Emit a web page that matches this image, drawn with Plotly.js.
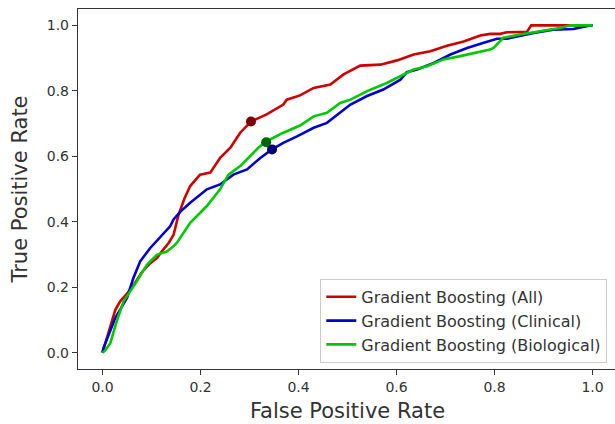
<!DOCTYPE html>
<html>
<head>
<meta charset="utf-8">
<script src="https://cdn.plot.ly/plotly-3.0.1.min.js"></script>
<style>
html, body { margin: 0; padding: 0; overflow: hidden; background: #fff; }
#chart { width: 620px; height: 424px; }
</style>
</head>
<body>
<div id="chart"></div>
<script>
// ROC curve for Gradient Boosting (All)
const allFpr = [0.0, 0.01, 0.026, 0.036, 0.05, 0.065, 0.08, 0.095, 0.111, 0.124, 0.135, 0.145, 0.155, 0.167, 0.179, 0.199, 0.22, 0.24, 0.261, 0.281, 0.303, 0.335, 0.369, 0.376, 0.397, 0.403, 0.431, 0.465, 0.492, 0.526, 0.567, 0.601, 0.635, 0.669, 0.703, 0.737, 0.771, 0.791, 0.812, 0.825, 0.866, 0.875, 0.887, 1.0];
const allTpr = [0.0, 0.05, 0.13, 0.157, 0.18, 0.21, 0.245, 0.27, 0.289, 0.315, 0.335, 0.36, 0.42, 0.47, 0.509, 0.544, 0.55, 0.595, 0.626, 0.672, 0.706, 0.728, 0.758, 0.773, 0.784, 0.786, 0.809, 0.819, 0.85, 0.877, 0.88, 0.893, 0.911, 0.921, 0.938, 0.951, 0.969, 0.974, 0.974, 0.979, 0.98, 1.0, 1.0, 1.0];

// ROC curve for Gradient Boosting (Clinical)
const cliFpr = [0.0, 0.002, 0.026, 0.05, 0.063, 0.077, 0.097, 0.118, 0.138, 0.145, 0.159, 0.179, 0.213, 0.24, 0.267, 0.295, 0.322, 0.346, 0.369, 0.397, 0.431, 0.458, 0.471, 0.506, 0.54, 0.573, 0.608, 0.621, 0.642, 0.676, 0.71, 0.744, 0.778, 0.805, 0.825, 0.88, 0.92, 0.961, 0.995, 1.0];
const cliTpr = [0.0, 0.014, 0.106, 0.167, 0.228, 0.279, 0.319, 0.355, 0.386, 0.407, 0.431, 0.458, 0.499, 0.514, 0.544, 0.56, 0.595, 0.621, 0.641, 0.661, 0.687, 0.702, 0.717, 0.758, 0.784, 0.804, 0.834, 0.857, 0.865, 0.885, 0.911, 0.931, 0.947, 0.959, 0.959, 0.977, 0.987, 0.989, 1.0, 1.0];

// ROC curve for Gradient Boosting (Biological)
const bioFpr = [0.0, 0.005, 0.016, 0.029, 0.043, 0.057, 0.07, 0.091, 0.111, 0.131, 0.145, 0.152, 0.179, 0.213, 0.24, 0.257, 0.281, 0.301, 0.318, 0.335, 0.369, 0.403, 0.431, 0.458, 0.485, 0.506, 0.54, 0.58, 0.608, 0.635, 0.662, 0.696, 0.73, 0.764, 0.791, 0.798, 0.818, 0.852, 0.893, 0.934, 0.955, 1.0];
const bioTpr = [0.0, 0.006, 0.029, 0.096, 0.157, 0.187, 0.218, 0.269, 0.299, 0.309, 0.325, 0.336, 0.397, 0.448, 0.499, 0.544, 0.57, 0.6, 0.626, 0.646, 0.672, 0.694, 0.722, 0.733, 0.763, 0.773, 0.799, 0.824, 0.845, 0.865, 0.875, 0.896, 0.906, 0.916, 0.926, 0.931, 0.962, 0.972, 0.982, 0.992, 1.0, 1.0];

// Operating points (markers)
const pointNames = ["All", "Clinical", "Biological"];
const pointFpr = [0.303, 0.346, 0.334];
const pointTpr = [0.706, 0.621, 0.643];

const tickVals = [0.0, 0.2, 0.4, 0.6, 0.8, 1.0];
const tickText = ["0.0", "0.2", "0.4", "0.6", "0.8", "1.0"];

const lineColors = ["#cc0000", "#0000cc", "#00c800"];
const dotColors = ["#7a0000", "#00007a", "#006400"];
const seriesNames = ["Gradient Boosting (All)", "Gradient Boosting (Clinical)", "Gradient Boosting (Biological)"];

const xs = [allFpr, cliFpr, bioFpr];
const ys = [allTpr, cliTpr, bioTpr];

const traces = [];
for (let i = 0; i < 3; i++) {
  traces.push({
    x: xs[i], y: ys[i], type: 'scatter', mode: 'lines',
    name: seriesNames[i],
    line: { color: lineColors[i], width: 2.6 },
    hoverinfo: 'skip'
  });
}
for (let i = 0; i < 3; i++) {
  traces.push({
    x: [pointFpr[i]], y: [pointTpr[i]], type: 'scatter', mode: 'markers',
    name: pointNames[i], showlegend: false,
    marker: { color: dotColors[i], size: 10 },
    hoverinfo: 'skip'
  });
}

const axisCommon = {
  showgrid: false, zeroline: false,
  showline: true, linecolor: '#333', linewidth: 1.2,
  ticks: 'outside', ticklen: 5, tickwidth: 1.2, tickcolor: '#333',
  tickfont: { family: 'DejaVu Sans', size: 14, color: '#333' },
  tickvals: tickVals, ticktext: tickText
};

const layout = {
  width: 620, height: 424,
  margin: { l: 78, r: 3, t: 9, b: 55 },
  paper_bgcolor: '#fff', plot_bgcolor: '#fff',
  showlegend: true,
  font: { family: 'DejaVu Sans', color: '#333' },
  xaxis: Object.assign({}, axisCommon, {
    range: [-0.05, 1.05], mirror: true,
    title: { text: 'False Positive Rate', font: { family: 'DejaVu Sans', size: 21, color: '#333' }, standoff: 9 }
  }),
  yaxis: Object.assign({}, axisCommon, {
    range: [-0.05, 1.05], mirror: true,
    title: { text: 'True Positive Rate', font: { family: 'DejaVu Sans', size: 21, color: '#333' }, standoff: 13 }
  }),
  legend: {
    x: 0.982, y: 0.017, xanchor: 'right', yanchor: 'bottom',
    bgcolor: '#fff', bordercolor: '#cccccc', borderwidth: 1,
    font: { family: 'DejaVu Sans', size: 16, color: '#333' },
    tracegroupgap: 0
  }
};

Plotly.newPlot('chart', traces, layout, { displayModeBar: false, staticPlot: true });
</script>
</body>
</html>
